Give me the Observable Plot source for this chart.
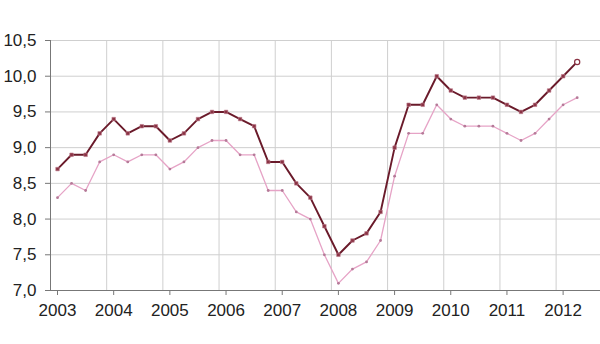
<!DOCTYPE html>
<html>
<head>
<meta charset="utf-8">
<script src="https://cdn.jsdelivr.net/npm/d3@7"></script>
<script src="https://cdn.jsdelivr.net/npm/@observablehq/plot@0.6"></script>
<style>
  html, body { margin: 0; padding: 0; background: #fff; }
  svg { font-family: "Liberation Sans", Arial, sans-serif; }
</style>
</head>
<body>
<div id="chart"></div>
<script>
// Quarterly values, 2003 Q1 to 2012 Q2
const firstYear = 2003;
const seriesDark = [8.7, 8.9, 8.9, 9.2, 9.4, 9.2, 9.3, 9.3, 9.1, 9.2, 9.4, 9.5,
  9.5, 9.4, 9.3, 8.8, 8.8, 8.5, 8.3, 7.9, 7.5, 7.7, 7.8, 8.1,
  9.0, 9.6, 9.6, 10.0, 9.8, 9.7, 9.7, 9.7, 9.6, 9.5, 9.6, 9.8, 10.0, 10.2];
const seriesLight = [8.3, 8.5, 8.4, 8.8, 8.9, 8.8, 8.9, 8.9, 8.7, 8.8, 9.0, 9.1,
  9.1, 8.9, 8.9, 8.4, 8.4, 8.1, 8.0, 7.5, 7.1, 7.3, 7.4, 7.7,
  8.6, 9.2, 9.2, 9.6, 9.4, 9.3, 9.3, 9.3, 9.2, 9.1, 9.2, 9.4, 9.6, 9.7];
const xTicks = [2003, 2004, 2005, 2006, 2007, 2008, 2009, 2010, 2011, 2012];
const yTicks = [7.0, 7.5, 8.0, 8.5, 9.0, 9.5, 10.0, 10.5];

// quarter i is plotted at the middle of its quarter
const toRows = (vals) => vals.map((v, i) => ({t: firstYear + (Math.floor(i / 4)) + ((i % 4) + 0.5) / 4, v}));
const dark = toRows(seriesDark);
const light = toRows(seriesLight);

const chart = Plot.plot({
  width: 600,
  height: 344,
  marginLeft: 50,
  marginRight: 0,
  marginTop: 40,
  marginBottom: 54,
  style: {fontFamily: "'Liberation Sans', Arial, sans-serif", color: "#222", background: "#fff"},
  x: {type: "linear", domain: [2003, 2012.79], label: null},
  y: {domain: [7, 10.5], label: null},
  marks: [
    Plot.gridX(xTicks, {stroke: "#cfcfcf", strokeOpacity: 1}),
    Plot.gridY(yTicks, {stroke: "#cfcfcf", strokeOpacity: 1}),
    Plot.axisX(xTicks, {label: null, tickSize: 5, tickPadding: 8, dx: 7, fontSize: 17, tickFormat: d => String(d), stroke: "#777", fill: "#222"}),
    Plot.axisY(yTicks, {label: null, tickSize: 5, tickPadding: 9, fontSize: 17, tickFormat: d => d.toFixed(1).replace(".", ","), stroke: "#777", fill: "#222"}),
    Plot.ruleX([2003], {stroke: "#777"}),
    Plot.ruleY([7], {stroke: "#777"}),
    Plot.line(light, {x: "t", y: "v", stroke: "#e6a3c6", strokeWidth: 1.3}),
    Plot.dot(light, {x: "t", y: "v", r: 1.4, fill: "#b57a98", stroke: "none"}),
    Plot.line(dark, {x: "t", y: "v", stroke: "#6a1a2a", strokeWidth: 1.9}),
    Plot.dot(dark.slice(0, -1), {x: "t", y: "v", symbol: "square", r: 2, fill: "#8a3344", stroke: "#c08090", strokeWidth: 0.6}),
    Plot.dot(dark.slice(-1), {x: "t", y: "v", r: 2.6, fill: "#fff", stroke: "#8a3344", strokeWidth: 1.2})
  ]
});
document.getElementById("chart").appendChild(chart);
</script>
</body>
</html>
